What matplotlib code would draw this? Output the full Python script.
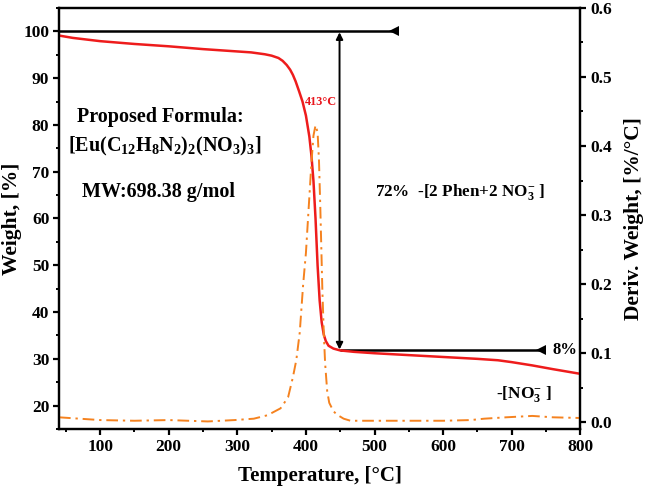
import matplotlib
matplotlib.use('Agg')
import matplotlib.pyplot as plt
from matplotlib.ticker import MultipleLocator, FormatStrFormatter

"""TGA / DTG curve of the Eu(phen)2(NO3)3 complex"""

# weight loss curve (TG), temperature in degC, weight in %
tg_temp = [40, 60, 100, 150, 200, 250, 300, 320, 340, 350, 360, 366, 372, 377,
           381, 385, 390, 395, 400, 405, 408, 411, 414, 417, 420, 423, 426,
           429, 433, 440, 450, 470, 500, 550, 600, 650, 680, 700, 730, 760,
           800]
tg_weight = [99.1, 98.6, 97.9, 97.3, 96.8, 96.2, 95.7, 95.5, 95.1, 94.8, 94.3,
             93.7, 92.8, 91.8, 90.7, 89.3, 87.2, 85.0, 82.0, 77.5, 73.5, 68.0,
             60.0, 50.0, 42.5, 37.8, 35.2, 33.8, 32.8, 32.2, 31.8, 31.5, 31.2,
             30.8, 30.4, 30.0, 29.7, 29.3, 28.6, 27.8, 26.8]

# derivative curve (DTG), %/degC
dtg_temp = [40, 70, 100, 150, 200, 257, 296, 324, 344, 363, 374, 381, 386, 391,
            396, 400, 404, 408, 411, 414, 417, 419, 421, 422.5, 424, 426, 428,
            431, 434, 440, 445, 455, 465, 500, 550, 600, 640, 660, 692, 730,
            760, 800]
dtg_value = [0.007, 0.005, 0.003, 0.002, 0.003, 0.001, 0.003, 0.005, 0.010,
             0.020, 0.036, 0.065, 0.090, 0.130, 0.200, 0.245, 0.310, 0.375,
             0.415, 0.430, 0.420, 0.380, 0.310, 0.250, 0.190, 0.130, 0.085,
             0.045, 0.028, 0.016, 0.011, 0.005, 0.002, 0.002, 0.002, 0.002,
             0.003, 0.005, 0.007, 0.009, 0.007, 0.006]

# mass loss steps
step_temp = 449
start_weight = 100
plateau_weight = 31.9
first_step_end = 532
second_step_end = 745
peak_temp = 413

FONT = 'Liberation Serif'


def setup_style() -> None:
    plt.rcParams['font.family'] = FONT
    plt.rcParams['font.weight'] = 'bold'
    plt.rcParams['axes.labelweight'] = 'bold'
    plt.rcParams['mathtext.fontset'] = 'custom'
    plt.rcParams['mathtext.rm'] = FONT + ':bold'
    plt.rcParams['mathtext.it'] = FONT + ':bold:italic'
    plt.rcParams['mathtext.bf'] = FONT + ':bold'
    plt.rcParams['axes.linewidth'] = 1.6


def style_axis(ax, side: str) -> None:
    ax.tick_params(axis='both', which='major', direction='out', length=4,
                   width=1.6, labelsize=12.5, pad=3)
    ax.tick_params(axis='both', which='minor', direction='out', length=2.5,
                   width=1.4)
    ax.tick_params(axis='x', top=False)
    if side == 'left':
        ax.tick_params(axis='y', right=False)


def draw_annotations(ax) -> None:
    # upper reference line and lower plateau line, each with a reversed head
    ax.plot([40, first_step_end], [start_weight] * 2, color='black', lw=1.8,
            solid_capstyle='butt')
    ax.plot(first_step_end - 3, start_weight, marker='<', color='black',
            markersize=7, markeredgewidth=0)
    ax.plot([step_temp, second_step_end], [plateau_weight] * 2, color='black',
            lw=1.8, solid_capstyle='butt')
    ax.plot(second_step_end - 3, plateau_weight, marker='<', color='black',
            markersize=7, markeredgewidth=0)

    # vertical double arrow for the main step
    ax.annotate('', xy=(step_temp, start_weight - 0.2),
                xytext=(step_temp, plateau_weight + 0.1),
                arrowprops=dict(arrowstyle='<|-|>', color='black', lw=1.4,
                                mutation_scale=10, shrinkA=0, shrinkB=0))

    ax.text(peak_temp - 14, 85.0, f'{peak_temp}°C', color='#e8141b',
            fontsize=8.8, va='center', ha='left')
    ax.text(187, 81.6, 'Proposed Formula:', fontsize=14.5, ha='center',
            va='center')
    ax.text(195, 75.4,
            r'[Eu(C$_{\mathrm{12}}$H$_{\mathrm{8}}$N$_{\mathrm{2}}$)'
            r'$_{\mathrm{2}}$(NO$_{\mathrm{3}}$)$_{\mathrm{3}}$]',
            fontsize=14.5, ha='center', va='center')
    ax.text(185, 65.6, 'MW:698.38 g/mol', fontsize=14.5, ha='center',
            va='center')
    ax.text(625, 65.6,
            r'72%  -[2 Phen+2 NO$_{\mathrm{3}}^{\mathrm{-}}$ ]',
            fontsize=12.3, ha='center', va='center')
    ax.text(759, plateau_weight, '8%', fontsize=12, ha='left', va='center')
    ax.text(718, 22.5, r'-[NO$_{\mathrm{3}}^{\mathrm{-}}$ ]', fontsize=12.5,
            ha='center', va='center')


def plot_data() -> None:
    fig = plt.figure(figsize=(6.46, 4.96), dpi=100)
    ax = fig.add_axes([0.0913, 0.135, 0.807, 0.849])
    ax2 = ax.twinx()

    ax.plot(tg_temp, tg_weight, color='#ee1c1c', lw=1.8, zorder=3)
    ax2.plot(dtg_temp, dtg_value, color='#f5821f', lw=1.4,
             dashes=(6, 2.5, 1.2, 2.5))

    ax.set_xlim(40, 800)
    ax.set_ylim(15, 105)
    ax2.set_ylim(-0.01, 0.6)

    ax.xaxis.set_major_locator(MultipleLocator(100))
    ax.xaxis.set_minor_locator(MultipleLocator(50))
    ax.yaxis.set_major_locator(MultipleLocator(10))
    ax.yaxis.set_minor_locator(MultipleLocator(5))
    ax2.yaxis.set_major_locator(MultipleLocator(0.1))
    ax2.yaxis.set_minor_locator(MultipleLocator(0.05))
    ax2.yaxis.set_major_formatter(FormatStrFormatter('%.1f'))

    style_axis(ax, 'left')
    style_axis(ax2, 'right')

    ax.set_xlabel('Temperature, [°C]', fontsize=15, labelpad=8)
    ax.set_ylabel('Weight, [%]', fontsize=15.5, labelpad=1)
    ax2.set_ylabel('Deriv. Weight, [%/°C]', fontsize=15.5, labelpad=9)

    draw_annotations(ax)

    fig.savefig('out.png', dpi=100)


def main():
    setup_style()
    plot_data()


if __name__ == '__main__':
    main()
